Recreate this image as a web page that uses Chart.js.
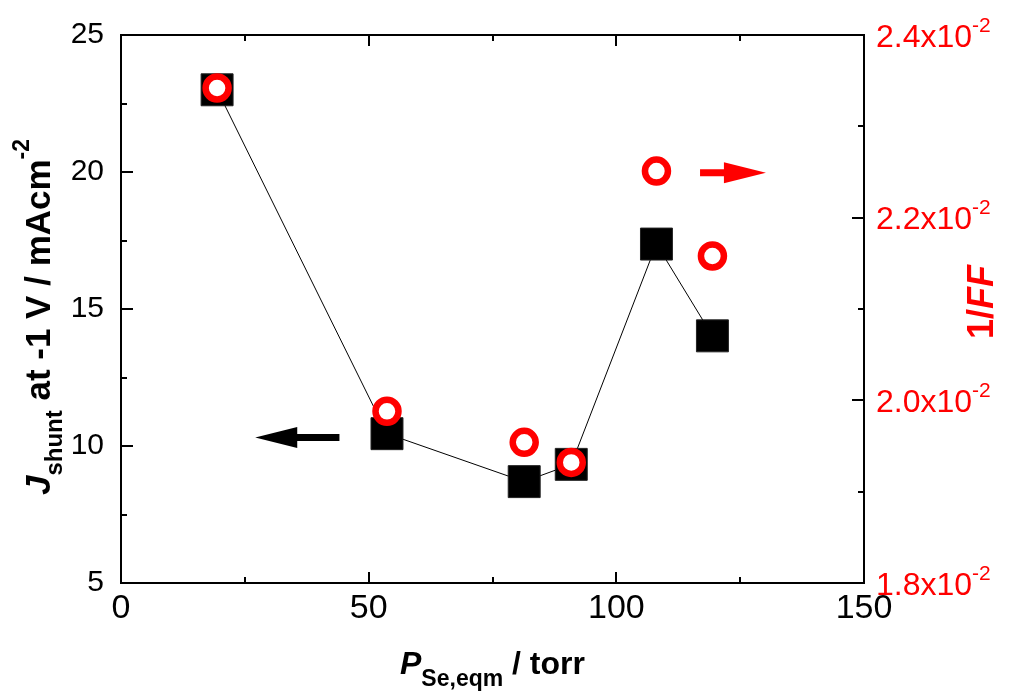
<!DOCTYPE html>
<html>
<head>
<meta charset="utf-8">
<script src="https://cdn.jsdelivr.net/npm/chart.js@4.4.1/dist/chart.umd.min.js"></script>
<style>
  html, body { margin: 0; padding: 0; background: #fff; }
</style>
</head>
<body>
<canvas id="chart" width="1010" height="695"></canvas>
<script>
// values
const pressure = [19.4, 53.7, 81.4, 90.9, 108.1, 119.4];          // P_Se,eqm / torr
const jShunt   = [23.0, 10.45, 8.7, 9.33, 17.37, 14.02];           // J_shunt at -1 V / mA cm^-2
const invFF    = [0.02342, 0.01988, 0.01954, 0.01932, 0.02251, 0.02158]; // 1/FF

const xTicks = [0, 50, 100, 150];
const yTicks = [5, 10, 15, 20, 25];
const y1Ticks = [0.018, 0.020, 0.022, 0.024];
const y1TickLabels = ['1.8x10', '2.0x10', '2.2x10', '2.4x10'];

// arrows pointing at the axis each series belongs to (data coordinates)
const jArrow  = { from: [44.1, 10.31], to: [27.1, 10.31] };
const ffArrow = { from: [116.9, 19.97], to: [130.2, 19.97] };

const FONT = "'Liberation Sans', Arial, sans-serif";
const RED = '#ff0000';

// 画坐标框、朝内的刻度、右轴标签、轴标题和箭头
const figurePlugin = {
  id: 'figure',
  afterDraw(chart) {
    const ctx = chart.ctx;
    const { left, right, top, bottom } = chart.chartArea;
    const sx = chart.scales.x, sy = chart.scales.y, sy1 = chart.scales.y1;

    ctx.save();
    ctx.strokeStyle = '#000';
    ctx.lineWidth = 2;
    ctx.strokeRect(left, top, right - left, bottom - top);

    // x ticks, bottom and top
    ctx.beginPath();
    for (let v = 0; v <= 150; v += 25) {
      const px = Math.round(sx.getPixelForValue(v));
      const len = v % 50 === 0 ? 11 : 6;
      ctx.moveTo(px, bottom); ctx.lineTo(px, bottom - len);
      ctx.moveTo(px, top); ctx.lineTo(px, top + len);
    }
    // left ticks
    for (let v = 5; v <= 25; v += 2.5) {
      const py = Math.round(sy.getPixelForValue(v));
      const len = v % 5 === 0 ? 12 : 6;
      ctx.moveTo(left, py); ctx.lineTo(left + len, py);
    }
    // right ticks
    for (let i = 0; i <= 6; i++) {
      const v = 0.018 + i * 0.001;
      const py = Math.round(sy1.getPixelForValue(v));
      const len = i % 2 === 0 ? 12 : 6;
      ctx.moveTo(right, py); ctx.lineTo(right - len, py);
    }
    ctx.stroke();

    // right axis labels with superscript
    ctx.fillStyle = RED;
    ctx.textAlign = 'left';
    ctx.textBaseline = 'alphabetic';
    y1Ticks.forEach((v, i) => {
      const py = sy1.getPixelForValue(v);
      const base = py + 11.5;
      ctx.font = `32px ${FONT}`;
      ctx.fillText(y1TickLabels[i], right + 12, base);
      const w = ctx.measureText(y1TickLabels[i]).width;
      ctx.font = `21px ${FONT}`;
      ctx.fillText('-2', right + 12 + w, base - 15);
    });

    // text runs: [text, font, baseline shift]
    function drawRuns(runs, cx, cy, angle, color) {
      ctx.save();
      ctx.translate(cx, cy);
      ctx.rotate(angle);
      ctx.fillStyle = color;
      ctx.textAlign = 'left';
      ctx.textBaseline = 'alphabetic';
      let total = 0;
      runs.forEach(r => { ctx.font = r[1]; total += ctx.measureText(r[0]).width; });
      let x = -total / 2;
      runs.forEach(r => {
        ctx.font = r[1];
        ctx.fillText(r[0], x, r[2]);
        x += ctx.measureText(r[0]).width;
      });
      ctx.restore();
    }

    drawRuns([
      ['P', `italic bold 32px ${FONT}`, 0],
      ['Se,eqm', `bold 23px ${FONT}`, 12],
      [' / torr', `bold 32px ${FONT}`, 0]
    ], (left + right) / 2, 674, 0, '#000');

    drawRuns([
      ['J', `italic bold 35px ${FONT}`, 0],
      ['shunt', `bold 24px ${FONT}`, 12],
      [' at -1 V / mAcm', `bold 35px ${FONT}`, 0],
      ['-2', `bold 23px ${FONT}`, -21]
    ], 50, 317, -Math.PI / 2, '#000');

    drawRuns([
      ['1/', `bold 36px ${FONT}`, 0],
      ['FF', `italic bold 36px ${FONT}`, 0]
    ], 993, 302, -Math.PI / 2, RED);

    // arrows
    function arrow(a, yScale, color) {
      const x0 = sx.getPixelForValue(a.from[0]), y0 = yScale.getPixelForValue(a.from[1]);
      const x1 = sx.getPixelForValue(a.to[0]), y1 = yScale.getPixelForValue(a.to[1]);
      const dir = Math.sign(x1 - x0);
      const head = 42, half = 10.5, shaft = 3.5;
      ctx.fillStyle = color;
      ctx.beginPath();
      ctx.moveTo(x0, y0 - shaft);
      ctx.lineTo(x1 - dir * head, y1 - shaft);
      ctx.lineTo(x1 - dir * head, y1 - half);
      ctx.lineTo(x1, y1);
      ctx.lineTo(x1 - dir * head, y1 + half);
      ctx.lineTo(x1 - dir * head, y1 + shaft);
      ctx.lineTo(x0, y0 + shaft);
      ctx.closePath();
      ctx.fill();
    }
    arrow(jArrow, sy, '#000');
    arrow(ffArrow, sy, RED);

    ctx.restore();
  }
};

const ctx = document.getElementById('chart').getContext('2d');
new Chart(ctx, {
  type: 'scatter',
  data: {
    datasets: [
      {
        label: '1/FF',
        data: pressure.map((p, i) => ({ x: p, y: invFF[i] })),
        yAxisID: 'y1',
        showLine: false,
        pointStyle: 'circle',
        pointRadius: 11.5,
        pointBorderWidth: 6.5,
        pointBorderColor: RED,
        pointBackgroundColor: '#fff',
        order: 0
      },
      {
        label: 'J shunt',
        data: pressure.map((p, i) => ({ x: p, y: jShunt[i] })),
        yAxisID: 'y',
        showLine: true,
        borderColor: '#000',
        borderWidth: 1,
        pointStyle: 'rect',
        pointRadius: 22.6,
        pointBorderWidth: 1,
        pointBorderColor: '#222',
        pointBackgroundColor: '#000',
        order: 1
      }
    ]
  },
  options: {
    responsive: false,
    devicePixelRatio: 1,
    animation: false,
    layout: { padding: { top: 32, left: 0, right: 0, bottom: 0 } },
    plugins: { legend: { display: false }, tooltip: { enabled: false } },
    scales: {
      x: {
        type: 'linear',
        min: 0, max: 150,
        afterBuildTicks: s => { s.ticks = xTicks.map(v => ({ value: v })); },
        afterFit: s => { s.height = 112; },
        grid: { display: false, drawTicks: false },
        border: { display: false },
        ticks: { font: { family: FONT, size: 34 }, color: '#000', padding: 5, maxRotation: 0 }
      },
      y: {
        type: 'linear',
        position: 'left',
        min: 5, max: 25,
        afterBuildTicks: s => { s.ticks = yTicks.map(v => ({ value: v })); },
        afterFit: s => { s.width = 121; },
        grid: { display: false, drawTicks: false },
        border: { display: false },
        ticks: { font: { family: FONT, size: 30 }, color: '#000', padding: 17 }
      },
      y1: {
        type: 'linear',
        position: 'right',
        min: 0.018, max: 0.024,
        afterBuildTicks: s => { s.ticks = y1Ticks.map(v => ({ value: v })); },
        afterFit: s => { s.width = 146; },
        grid: { display: false, drawTicks: false },
        border: { display: false },
        ticks: { display: false }
      }
    }
  },
  plugins: [figurePlugin]
});
</script>
</body>
</html>
